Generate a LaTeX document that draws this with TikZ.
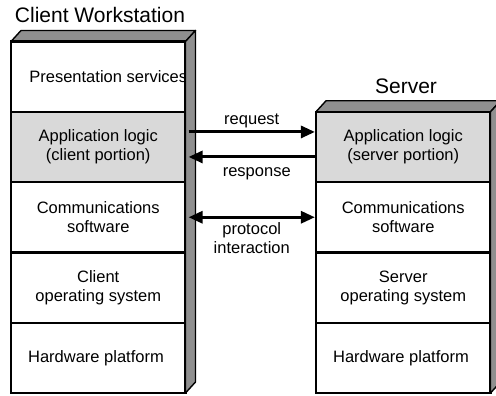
\documentclass[tikz,border=0pt]{standalone}
\usepackage{fontspec}
\setmainfont{Liberation Sans}
\usetikzlibrary{arrows.meta, calc}

\newcommand\layerwidth{174.5}
\newcommand\layerheight{70.3}
\newcommand\depthx{10}
\newcommand\depthy{11}
\newcommand\clientleft{11}
\newcommand\clienttop{41.5}
\newcommand\serverleft{316}
\newcommand\servertop{111.8}
\newcommand\boxbottom{393}
\newcommand\layerfont{\fontsize{16.5}{19}\selectfont}
\newcommand\titlefont{\fontsize{21}{24}\selectfont}
\definecolor{facegray}{gray}{0.56}
\definecolor{logicgray}{gray}{0.85}

\tikzset{
	layer/.style = {draw, line width = 2.2pt, minimum width = \layerwidth pt, minimum height = \layerheight pt, inner sep = 0pt, align = center},
	face/.style = {fill = facegray, draw, line width = 1.4pt, line join = round},
	msg/.style = {line width = 3pt, -{Triangle[length = 14pt, width = 12pt]}},
	title/.style = {font = \titlefont}
}

\begin{document}
\begin{tikzpicture}[yscale = -1, x = 1pt, y = 1pt, font = \layerfont]
	\useasboundingbox (0, 0) rectangle (496, 396);

	% Deckflaechen:
	\foreach \bx/\by in {\clientleft/\clienttop, \serverleft/\servertop} {
		\draw [face] (\bx, \by) -- +(\depthx, -\depthy) -- +(\layerwidth+\depthx, -\depthy) -- +(\layerwidth, 0) -- cycle;
	}

	% Client
	\node [title] (clienttitle) at (100, 15) {Client Workstation};
	\foreach \name/\i/\col/\label in {
		cpres/1/white/{\makebox[0pt]{\hspace*{20pt}Presentation services}},
		capp/2/logicgray/{Application logic\\(client portion)},
		ccomm/3/white/{Communications\\software},
		cos/4/white/{Client\\operating system},
		chw/5/white/{Hardware platform}
	} {
		\node [layer, fill = \col] (\name) at (\clientleft+\layerwidth/2, \clienttop+\layerheight*\i-\layerheight/2) {\label};
	}

	% Server
	\node [title] (servertitle) at (406, 86) {Server};
	\foreach \name/\i/\col/\label in {
		sapp/1/logicgray/{Application logic\\(server portion)},
		scomm/2/white/{Communications\\software},
		sos/3/white/{Server\\operating system},
		shw/4/white/{Hardware platform}
	} {
		\node [layer, fill = \col] (\name) at (\serverleft+\layerwidth/2, \servertop+\layerheight*\i-\layerheight/2) {\label};
	}

	% Seitenflaechen:
	\foreach \bx/\by in {\clientleft/\clienttop, \serverleft/\servertop} {
		\draw [face] (\bx+\layerwidth, \by) -- +(\depthx, -\depthy) -- (\bx+\layerwidth+\depthx, \boxbottom-\depthy) -- (\bx+\layerwidth, \boxbottom) -- cycle;
	}

	% Nachrichten
	\draw [msg] ($(capp.east)+(2, -15)$) -- ($(sapp.west)+(0, -15)$) node [midway, above, inner sep = 3pt] {request};
	\draw [msg] ($(sapp.west)+(0, 10)$) -- ($(capp.east)+(2, 10)$) node [midway, below, inner sep = 9pt, xshift = 5pt] {response};
	\draw [msg, {Triangle[length = 14pt, width = 12pt]}-{Triangle[length = 14pt, width = 12pt]}] ($(ccomm.east)+(2, 0)$) -- (scomm.west) node [midway, below, align = center] {protocol\\interaction};
\end{tikzpicture}
\end{document}
